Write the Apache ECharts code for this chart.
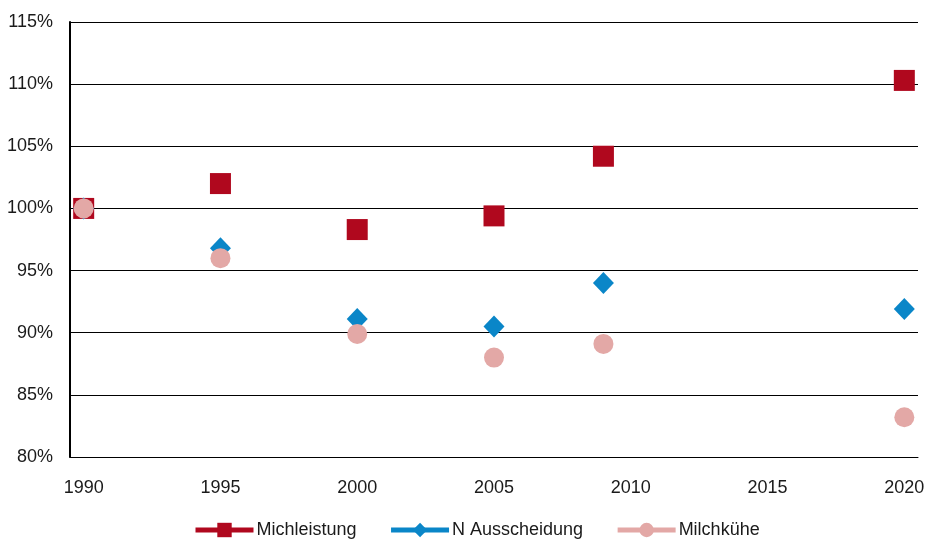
<!DOCTYPE html>
<html>
<head>
<meta charset="utf-8">
<script src="https://cdn.jsdelivr.net/npm/echarts@6/dist/echarts.min.js"></script>
<style>
  html, body { margin: 0; padding: 0; background: #fff; }
  #chart { width: 927px; height: 543px; }
</style>
</head>
<body>
<div id="chart"></div>
<script>
// Survey years and indexed values (1990 = 100 %)
const years = [1990, 1995, 2000, 2005, 2009, 2020];
const yearTicks = [1990, 1995, 2000, 2005, 2010, 2015, 2020];
const michleistung = [100, 102.0, 98.3, 99.4, 104.2, 110.3];
const nAusscheidung = [100, 96.8, 91.1, 90.5, 94.0, 91.9];
const milchkuehe = [100, 96.0, 89.9, 88.0, 89.1, 83.2];
const seriesNames = ['Michleistung', 'N Ausscheidung', 'Milchkühe'];

const FONT = '"Liberation Sans Narrow", "Arial Narrow", "Liberation Sans", Arial, sans-serif';
const TEXT = '#1a1a1a';
const FS = 18;

const pairs = vals => years.map((y, i) => [y, vals[i]]);

function pointSeries(name, vals, symbol, size, color) {
  return {
    name: name,
    type: 'line',
    data: pairs(vals),
    symbol: symbol,
    symbolSize: size,
    showSymbol: true,
    itemStyle: { color: color, opacity: 1 },
    lineStyle: { color: color, opacity: 0 },
    emphasis: { disabled: true },
    animation: false
  };
}

const chart = echarts.init(document.getElementById('chart'), null, { renderer: 'canvas' });
chart.setOption({
  backgroundColor: '#ffffff',
  textStyle: { fontFamily: FONT, color: TEXT },
  grid: { left: 70, right: 9, top: 22, bottom: 86, containLabel: false, outerBoundsMode: 'none' },
  xAxis: {
    type: 'value',
    min: 1989.5,
    max: 2020.5,
    axisLine: { show: true, lineStyle: { color: '#000', width: 1 } },
    axisTick: { show: false },
    splitLine: { show: false },
    axisLabel: {
      customValues: yearTicks,
      fontFamily: FONT,
      fontSize: FS,
      color: TEXT,
      margin: 22,
      formatter: v => String(v)
    }
  },
  yAxis: {
    type: 'value',
    min: 80,
    max: 115,
    interval: 5,
    axisLine: { show: true, lineStyle: { color: '#000', width: 2 } },
    axisTick: { show: false },
    splitLine: { show: true, lineStyle: { color: '#000', width: 1 } },
    axisLabel: {
      fontFamily: FONT,
      fontSize: FS,
      color: TEXT,
      margin: 17,
      formatter: v => v + '%'
    }
  },
  legend: {
    data: seriesNames,
    left: 193,
    top: 521,
    padding: 0,
    itemWidth: 58,
    itemHeight: 18,
    itemGap: 32,
    textStyle: { fontFamily: FONT, fontSize: FS, color: TEXT, padding: [0, 0, 0, -2] },
    lineStyle: { width: 5, opacity: 1 },
    selectedMode: false
  },
  series: [
    pointSeries(seriesNames[0], michleistung, 'rect', 21, '#b0081e'),
    pointSeries(seriesNames[1], nAusscheidung, 'diamond', [21, 22], '#0a86c8'),
    pointSeries(seriesNames[2], milchkuehe, 'circle', 20, '#e3a8a6')
  ]
});
</script>
</body>
</html>
